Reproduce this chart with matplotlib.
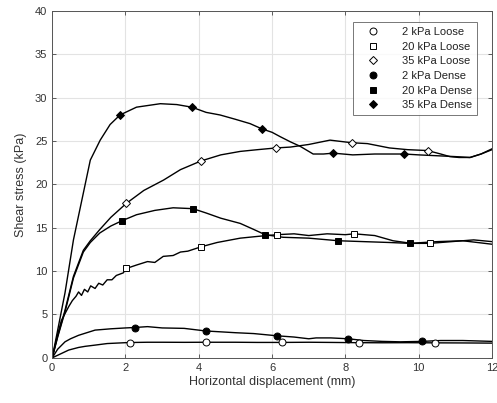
import matplotlib
matplotlib.use('Agg')
import matplotlib.pyplot as plt

plt.rcParams['font.family'] = ['Liberation Sans', 'DejaVu Sans']

# ---- data (mm, kPa) ----
# 2 kPa Loose
x_2l = [0, 0.2, 0.45, 0.72, 0.9, 1.17, 1.5, 2.0, 2.13, 2.6, 3.0, 3.6, 4.19, 5.0, 5.6, 6.28, 7.0, 7.6, 8.36, 9.0, 9.7, 10.45, 11.2, 12.0]
y_2l = [0, 0.4, 0.9, 1.2, 1.33, 1.47, 1.65, 1.75, 1.77, 1.8, 1.8, 1.79, 1.8, 1.8, 1.78, 1.78, 1.8, 1.78, 1.75, 1.74, 1.75, 1.73, 1.72, 1.7]
m_2l_x = [2.13, 4.19, 6.28, 8.36, 10.45]
m_2l_y = [1.77, 1.8, 1.78, 1.75, 1.73]

# 20 kPa Loose
x_20l = [0, 0.12, 0.25, 0.35, 0.45, 0.55, 0.65, 0.72, 0.8, 0.88, 0.97, 1.05, 1.17, 1.27, 1.38, 1.5, 1.63, 1.75, 1.94, 2.02, 2.3, 2.6, 2.8, 3.03, 3.3, 3.5, 3.7, 4.06, 4.5, 5.13, 5.6, 6.13, 6.6, 7.0, 7.5, 8.0, 8.24, 8.8, 9.3, 9.8, 10.3, 10.9, 11.5, 12.0]
y_20l = [0, 2.2, 4.3, 5.1, 5.9, 6.6, 7.1, 7.6, 7.2, 7.9, 7.6, 8.3, 8.0, 8.6, 8.4, 9.0, 9.0, 9.5, 9.8, 10.3, 10.7, 11.1, 11.0, 11.7, 11.8, 12.2, 12.3, 12.8, 13.3, 13.8, 14.0, 14.2, 14.3, 14.1, 14.3, 14.2, 14.3, 14.1, 13.5, 13.2, 13.2, 13.4, 13.6, 13.4]
m_20l_x = [2.02, 4.06, 6.13, 8.24, 10.3]
m_20l_y = [10.4, 12.8, 14.2, 14.3, 13.2]

# 35 kPa Loose
x_35l = [0, 0.15, 0.35, 0.58, 0.85, 1.04, 1.3, 1.6, 2.02, 2.5, 3.04, 3.5, 4.06, 4.6, 5.13, 5.6, 6.11, 6.5, 7.0, 7.58, 8.17, 8.6, 9.2, 9.7, 10.24, 10.6, 10.85, 11.1, 11.4, 11.7, 12.0]
y_35l = [0, 2.5, 5.5, 9.4, 12.4, 13.5, 14.8, 16.2, 17.8, 19.3, 20.5, 21.7, 22.7, 23.4, 23.8, 24.0, 24.2, 24.3, 24.6, 25.1, 24.8, 24.7, 24.2, 24.0, 23.9, 23.5, 23.2, 23.1, 23.1, 23.5, 24.0]
m_35l_x = [2.02, 4.06, 6.11, 8.17, 10.24]
m_35l_y = [17.8, 22.7, 24.2, 24.8, 23.9]

# 2 kPa Dense
x_2d = [0, 0.15, 0.35, 0.5, 0.72, 1.17, 1.6, 2.0, 2.25, 2.6, 3.0, 3.6, 4.19, 4.6, 5.0, 5.5, 6.12, 6.6, 7.0, 7.2, 7.6, 8.08, 8.5, 9.0, 9.5, 10.1, 10.6, 11.2, 12.0]
y_2d = [0, 1.0, 1.85, 2.2, 2.6, 3.2, 3.35, 3.45, 3.5, 3.6, 3.45, 3.4, 3.1, 3.0, 2.9, 2.8, 2.55, 2.4, 2.2, 2.3, 2.3, 2.2, 2.0, 1.9, 1.85, 1.9, 2.0, 2.0, 1.9]
m_2d_x = [2.25, 4.19, 6.12, 8.08, 10.1]
m_2d_y = [3.5, 3.1, 2.55, 2.2, 1.9]

# 20 kPa Dense
x_20d = [0, 0.15, 0.35, 0.58, 0.85, 1.04, 1.3, 1.6, 1.9, 2.3, 2.8, 3.3, 3.84, 4.2, 4.6, 5.13, 5.5, 5.81, 6.3, 7.0, 7.81, 8.5, 9.2, 9.75, 10.5, 11.2, 11.6, 12.0]
y_20d = [0, 2.4, 5.3, 9.2, 12.2, 13.3, 14.4, 15.2, 15.8, 16.5, 17.0, 17.3, 17.2, 16.7, 16.1, 15.5, 14.8, 14.2, 13.9, 13.8, 13.5, 13.4, 13.3, 13.2, 13.4, 13.5, 13.3, 13.1]
m_20d_x = [1.9, 3.84, 5.81, 7.81, 9.75]
m_20d_y = [15.8, 17.2, 14.2, 13.5, 13.2]

# 35 kPa Dense
x_35d = [0, 0.15, 0.35, 0.58, 0.85, 1.04, 1.31, 1.58, 1.85, 2.3, 2.95, 3.4, 3.81, 4.2, 4.58, 5.0, 5.4, 5.72, 6.0, 6.22, 6.5, 6.76, 7.0, 7.12, 7.4, 7.67, 8.2, 8.8, 9.2, 9.6, 10.0, 10.5, 11.0, 11.4, 11.7, 12.0]
y_35d = [0, 3.2, 7.5, 13.6, 19.0, 22.8, 25.1, 26.9, 28.0, 28.9, 29.3, 29.2, 28.9, 28.3, 28.0, 27.5, 27.0, 26.4, 26.0, 25.5, 24.9, 24.4, 23.8, 23.5, 23.5, 23.6, 23.4, 23.5, 23.5, 23.5, 23.4, 23.3, 23.2, 23.1, 23.5, 24.1]
m_35d_x = [1.85, 3.81, 5.72, 7.67, 9.6]
m_35d_y = [28.0, 28.9, 26.4, 23.6, 23.5]

x_ticks = [0, 2, 4, 6, 8, 10, 12]
y_ticks = [0, 5, 10, 15, 20, 25, 30, 35, 40]

# ---- figure ----
fig = plt.figure(figsize=(4.97, 4.03), dpi=100)
ax = fig.add_axes([0.105, 0.112, 0.885, 0.861])

curves = [
    (x_2l, y_2l, m_2l_x, m_2l_y, 'o', 'white', '2 kPa Loose'),
    (x_20l, y_20l, m_20l_x, m_20l_y, 's', 'white', '20 kPa Loose'),
    (x_35l, y_35l, m_35l_x, m_35l_y, 'D', 'white', '35 kPa Loose'),
    (x_2d, y_2d, m_2d_x, m_2d_y, 'o', 'black', '2 kPa Dense'),
    (x_20d, y_20d, m_20d_x, m_20d_y, 's', 'black', '20 kPa Dense'),
    (x_35d, y_35d, m_35d_x, m_35d_y, 'D', 'black', '35 kPa Dense'),
]

for xs, ys, mx, my, mk, fc, lab in curves:
    ax.plot(xs, ys, color='black', lw=1.0, zorder=2)
for xs, ys, mx, my, mk, fc, lab in curves:
    ms = 5 if mk == 'o' else (4.3 if mk == 's' else 4.5)
    ax.plot(mx, my, linestyle='none', marker=mk, ms=ms, mfc=fc, mec='black',
            mew=0.7, label=lab, zorder=3)

ax.set_xlim(0, 12)
ax.set_ylim(0, 40)
ax.set_xticks(x_ticks)
ax.set_yticks(y_ticks)
ax.grid(True, color='#e3e3e3', lw=0.8, zorder=0)
ax.set_axisbelow(True)
ax.tick_params(direction='in', top=True, right=True, length=3, width=0.6,
               colors='#444444', labelsize=8, labelcolor='#333333')
for sp in ax.spines.values():
    sp.set_color('#555555')
    sp.set_linewidth(0.7)

ax.set_xlabel('Horizontal displacement (mm)', fontsize=9, color='#333333', labelpad=2)
ax.set_ylabel('Shear stress (kPa)', fontsize=9, color='#333333', labelpad=6)

leg = ax.legend(loc='upper right', bbox_to_anchor=(0.966, 0.968), fontsize=8,
                frameon=True, fancybox=False, edgecolor='#555555',
                handletextpad=1.2, labelspacing=0.42, borderpad=0.45,
                handlelength=2.8, borderaxespad=0)
leg.get_frame().set_linewidth(0.7)
for t in leg.get_texts():
    t.set_color('#222222')

fig.savefig('out.png', dpi=100)
